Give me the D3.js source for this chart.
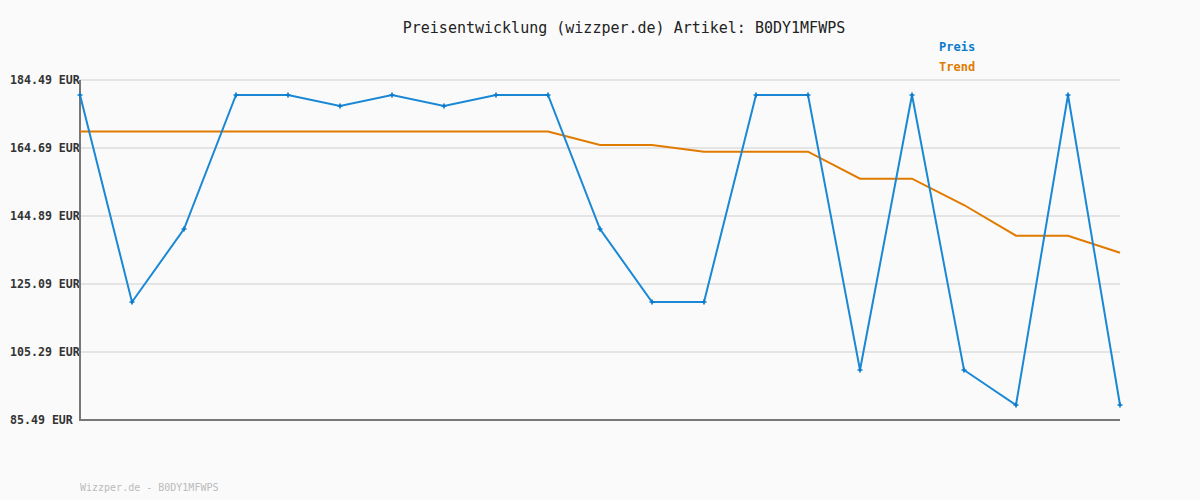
<!DOCTYPE html>
<html><head><meta charset="utf-8">
<script src="https://cdn.jsdelivr.net/npm/d3@7"></script>
<style>body{margin:0;background:#fafafa;}svg{display:block;}</style>
</head><body>
<script>
const categories = d3.range(21).map(i => "P" + (i + 1));
const preis = [180.12,119.85,141.10,180.12,180.12,176.92,180.12,176.92,180.12,180.12,141.10,119.85,119.85,180.12,180.12,100.05,180.12,100.05,89.86,180.12,89.86];
const trend = [169.49,169.49,169.49,169.49,169.49,169.49,169.49,169.49,169.49,169.49,165.56,165.56,163.61,163.61,163.61,155.75,155.75,148.09,139.15,139.15,134.20];
const yTicks = [85.49,105.29,125.09,144.89,164.69,184.49];
const title = "Preisentwicklung (wizzper.de) Artikel: B0DY1MFWPS";
const footer = "Wizzper.de - B0DY1MFWPS";
const seriesNames = ["Preis","Trend"];
const colors = ["#0a7acc","#e07b00"];

const W = 1200, H = 500;
const svg = d3.select("body").append("svg").attr("width", W).attr("height", H);
svg.append("rect").attr("width", W).attr("height", H).attr("fill", "#fafafa");

const x = d3.scalePoint().domain(categories).range([80, 1120]);
const y = d3.scaleLinear().domain([85.49, 184.49]).range([420, 80]);

// grid
svg.append("g").selectAll("line").data(yTicks.slice(1)).join("line")
  .attr("x1", 80).attr("x2", 1120)
  .attr("y1", d => y(d)).attr("y2", d => y(d))
  .attr("stroke", "#e4e4e4").attr("stroke-width", 2);

// y axis labels (left aligned at x=10)
const yAxis = d3.axisLeft(y).tickValues(yTicks).tickSize(0).tickPadding(0)
  .tickFormat(d => d.toFixed(2) + " EUR");
const ya = svg.append("g").attr("transform", "translate(80,0)").call(yAxis);
ya.select(".domain").remove();
ya.selectAll("text").attr("font-family", "'DejaVu Sans Mono', monospace")
  .attr("text-anchor", "start").attr("x", -70)
  .attr("font-size", 11.6).attr("font-weight", "bold").attr("fill", "#333");

// axis lines
svg.append("line").attr("x1", 80).attr("x2", 80).attr("y1", 80).attr("y2", 421)
  .attr("stroke", "#777").attr("stroke-width", 2);
svg.append("line").attr("x1", 79).attr("x2", 1120).attr("y1", 420).attr("y2", 420)
  .attr("stroke", "#777").attr("stroke-width", 2);

const line = d3.line().x((d, i) => x(categories[i])).y(d => y(d));
svg.append("path").datum(trend).attr("d", line).attr("fill", "none")
  .attr("stroke", colors[1]).attr("stroke-width", 2);
svg.append("path").datum(preis).attr("d", line).attr("fill", "none")
  .attr("stroke", "#1a88d4").attr("stroke-width", 2);

// markers
const plus = d3.symbol().type(d3.symbolCross).size(14);
svg.append("g").selectAll("path").data(preis).join("path")
  .attr("d", plus)
  .attr("transform", (d, i) => `translate(${x(categories[i])},${y(d)})`)
  .attr("fill", colors[0]);

// title
svg.append("text").attr("x", 624).attr("y", 33).attr("text-anchor", "middle")
  .attr("font-family", "'DejaVu Sans Mono', monospace").attr("font-size", 15)
  .attr("fill", "#222").text(title);

// legend
svg.append("g").selectAll("text").data(seriesNames).join("text")
  .attr("x", 939).attr("y", (d, i) => 51 + i * 20)
  .attr("font-family", "'DejaVu Sans Mono', monospace").attr("font-size", 12)
  .attr("font-weight", "bold").attr("fill", (d, i) => colors[i]).text(d => d);

// footer
svg.append("text").attr("x", 80).attr("y", 491)
  .attr("font-family", "'DejaVu Sans Mono', monospace").attr("font-size", 10)
  .attr("fill", "#bbb").text(footer);
</script>
</body></html>
